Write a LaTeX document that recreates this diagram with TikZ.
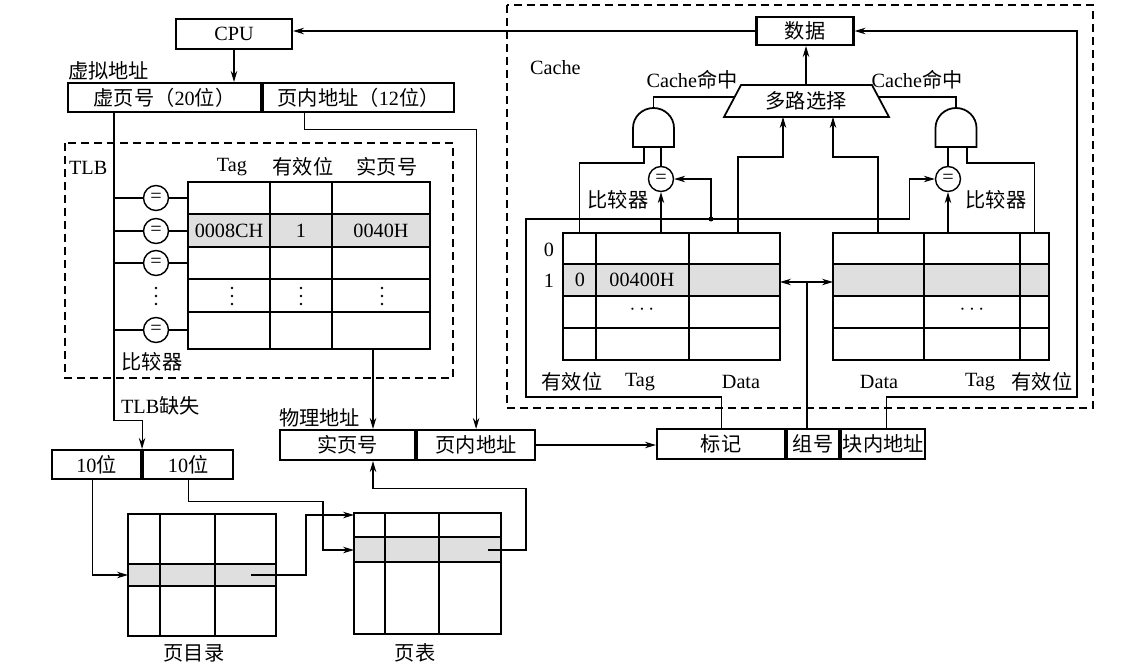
\documentclass[tikz,border=0pt]{standalone}
\usepackage{fontspec}
\setmainfont{Liberation Serif}
\newfontfamily\cjk{Noto Sans CJK SC}
\newcommand{\zh}[1]{{\cjk #1}}
\usepackage{tikz}
\usetikzlibrary{arrows.meta, positioning, calc}

\begin{document}
\begin{tikzpicture}[x=0.2mm, y=-0.2mm,
  font=\fontsize{11.5}{13}\selectfont,
  box/.style={draw, line width=1.2pt, inner sep=0pt, minimum height=6mm},
  cmp/.style={draw, circle, line width=0.8pt, inner sep=0pt, minimum size=5mm},
  lbl/.style={inner sep=1pt},
  wire/.style={line width=0.6pt},
  arr/.style={wire, -{Stealth[length=2.2mm, width=1.3mm]}},
  tabline/.style={line width=1pt},
  dashbox/.style={line width=1.1pt, dash pattern=on 1.6mm off 1mm}]
\useasboundingbox (0,0) rectangle (1146,669);
% CPU and virtual address
\node[box, minimum width=23.2mm] (cpu) at (234,34) {CPU};
\node[lbl, anchor=west] (vlab) at (66,71) {\zh{虚拟地址}};
\node[box, minimum width=38.6mm, minimum height=5.8mm] (vpn) at (164.5,97.5) {\zh{虚页号（}20\zh{位）}};
\node[box, minimum width=38.2mm, minimum height=5.8mm, right=0pt of vpn] (voff) {\zh{页内地址（}12\zh{位）}};
\draw[arr] (cpu.south) -- (cpu.south |- vpn.north);
% TLB
\draw[dashbox] (65,143) rectangle (453,378);
\node[lbl, anchor=west] (tlblab) at (67,168) {TLB};
\node (htag) at (232,167) {Tag};
\node (hval) at (303,167) {\zh{有效位}};
\node (hppn) at (387,167) {\zh{实页号}};
\coordinate (bus) at (114,112);
\coordinate (tlbtl) at (188,182);
\coordinate (tlbppn) at (373,349);
\fill[gray!25] (188,214) rectangle (430,247);
\draw[tabline] (188,182) rectangle (430,349);
\foreach \y in {214,247,279,312} \draw[tabline] (188,\y) -- (430,\y);
\foreach \x in {270,332} \draw[tabline] (\x,182) -- (\x,349);
\node at (229,231) {0008CH};
\node at (301,231) {1};
\node at (381,231) {0040H};
\foreach \x in {156,232,301,382}
  \foreach \d in {-8,0,8} \fill (\x,296+\d) circle (1.4);
\foreach \y/\n in {198/1,231/2,263/3,330/4} {
  \node[cmp] (c\n) at (156,\y) {=};
  \draw[wire] (c\n.west) -- (c\n.west -| bus);
  \draw[wire] (c\n.east) -- (c\n.east -| tlbtl);
}
\node (tlbcmp) at (152,362) {\zh{比较器}};
% TLB miss and page tables
\node[lbl, anchor=west] (misslab) at (119,406) {TLB\zh{缺失}};
\node[box, minimum width=17.8mm, minimum height=5.8mm] (l10) at (96.5,464.5) {10\zh{位}};
\node[box, minimum width=18mm, minimum height=5.8mm, right=0pt of l10] (r10) {10\zh{位}};
\draw[arr] (bus) |- ($(l10.north east)+(0,-28)$) -- (l10.north east);
\coordinate (dirin) at (128,575);
\coordinate (dirout) at (251,575);
\coordinate (ptin1) at (354,515);
\coordinate (ptin2) at (354,550);
\coordinate (ptout) at (488,550);
\fill[gray!25] (128,564) rectangle (276,586);
\draw[tabline] (128,514) rectangle (276,636);
\foreach \y in {564,586} \draw[tabline] (128,\y) -- (276,\y);
\foreach \x in {160,215} \draw[tabline] (\x,514) -- (\x,636);
\fill[gray!25] (354,537) rectangle (501,562);
\draw[tabline] (354,513) rectangle (501,634);
\foreach \y in {537,562} \draw[tabline] (354,\y) -- (501,\y);
\foreach \x in {385,439} \draw[tabline] (\x,513) -- (\x,634);
\node (dirlab) at (194,653) {\zh{页目录}};
\node (ptlab) at (415,653) {\zh{页表}};
\draw[arr] ($(l10.south west)+(42,0)$) |- (dirin);
\draw[arr] (dirout) -- ++(55,0) |- (ptin1);
\draw[arr] (r10.south) -- ++(0,21) -| ($(ptin2)+(-31,0)$) -- (ptin2);
% Physical address
\node[lbl, anchor=west] (plab) at (277,418) {\zh{物理地址}};
\node[box, minimum width=27mm] (ppn) at (347.5,445) {\zh{实页号}};
\node[box, minimum width=23.6mm, right=0pt of ppn] (poff) {\zh{页内地址}};
\draw[arr] (tlbppn) -- (tlbppn |- ppn.north);
\draw[arr] ($(voff.south west)+(42,0)$) -- ++(0,16) -| (poff.north);
\draw[arr] (ptout) -- ++(38,0) |- ($(ppn.south -| tlbppn)+(0,27)$) -- (ppn.south -| tlbppn);
% Cache address
\node[box, minimum width=25.6mm] (tagf) at (721,444) {\zh{标记}};
\node[box, minimum width=10.4mm, right=0pt of tagf] (setf) {\zh{组号}};
\node[box, minimum width=16.8mm, right=0pt of setf] (blkf) {\zh{块内地址}};
\draw[arr] (poff.east) -- (poff.east -| tagf.west);
% Cache
\draw[dashbox] (507,5) rectangle (1093,408);
\node[lbl, anchor=west] (clab) at (528,68) {Cache};
\node[box, minimum width=19.4mm, minimum height=5.6mm] (data) at (805,31) {\zh{数据}};
\draw[arr] (data.west) -- (data.west -| cpu.east);
\draw[line width=1pt] (741,85) -- (872,85) -- (889,117) -- (724,117) -- cycle;
\node (mux) at (806,101) {\zh{多路选择}};
\draw[arr] ($(mux)+(0,-16)$) -- (mux |- data.south);
% AND gates
\coordinate (land) at (653.5,108);
\coordinate (rand) at (956,108);
\draw[line width=1pt] (633,147) -- (633,128) arc[start angle=180, end angle=360, x radius=20.5, y radius=20] -- (674,147) -- cycle;
\draw[line width=1pt] (935.5,147) -- (935.5,128) arc[start angle=180, end angle=360, x radius=20.5, y radius=20] -- (976.5,147) -- cycle;
\node (lhit) at (692,80) {Cache\zh{命中}};
\node (rhit) at (917,80) {Cache\zh{命中}};
\draw[wire] (land) |- ($(mux)+(-71,-4)$);
\draw[wire] ($(mux)+(72,-4)$) -| (rand);
% comparators
\node[cmp] (lcmp) at (661,179) {=};
\node[cmp] (rcmp) at (948,179) {=};
\node (lcmplab) at (618,200) {\zh{比较器}};
\node (rcmplab) at (996,200) {\zh{比较器}};
\draw[wire] (lcmp.north) -- ++(0,-20);
\draw[wire] (rcmp.north) -- ++(0,-20);
% cache tables
\coordinate (lval) at (579.5,233);
\coordinate (ltag) at (661,233);
\coordinate (ldat) at (738,233);
\coordinate (rdat) at (878,233);
\coordinate (rtag) at (948,233);
\coordinate (rval) at (1034.5,233);
\foreach \a/\b/\c/\d in {563/596/689/780, 833/924/1020/1049} {
  \fill[gray!25] (\a,264) rectangle (\d,296);
  \draw[tabline] (\a,233) rectangle (\d,360);
  \foreach \y in {264,296,328} \draw[tabline] (\a,\y) -- (\d,\y);
  \foreach \x in {\b,\c} \draw[tabline] (\x,233) -- (\x,360);
}
\node at (549,250) {0};
\node at (549,281) {1};
\node at (580,280) {0};
\node at (642,280) {00400H};
\node at (642,310) {$\cdots$};
\node at (972,310) {$\cdots$};
\node at (572,382) {\zh{有效位}};
\node at (640,382) {Tag};
\node at (741,382) {Data};
\node at (879,382) {Data};
\node at (980,382) {Tag};
\node at (1042,382) {\zh{有效位}};
\draw[wire] ($(land)+(-9.5,39)$) -- ++(0,16) -| (lval);
\draw[wire] ($(rand)+(11,39)$) -- ++(0,16) -| (rval);
\draw[arr] (ltag) -- (lcmp.south);
\draw[arr] (rtag) -- (rcmp.south);
\draw[arr] (ldat) |- ($(mux)+(-23,56)$) -- ($(mux)+(-23,16)$);
\draw[arr] (rdat) |- ($(mux)+(27,56)$) -- ($(mux)+(27,16)$);
% tag bus
\coordinate (cbus) at (526,219);
\coordinate (dot) at (711,219);
\draw[arr] ($(tagf.north west)+(66,0)$) |- ($(cbus)+(0,178)$) -- (cbus) -| ($(rcmp.west)+(-25,0)$) -- (rcmp.west);
\fill (dot) circle (2.5);
\draw[arr] (dot) |- (lcmp.east);
% set and offset
\coordinate (dbl) at (807,282);
\draw[wire] (setf.north -| dbl) -- (dbl);
\draw[wire, {Stealth[length=2.2mm, width=1.3mm]}-{Stealth[length=2.2mm, width=1.3mm]}] (780,282) -- (833,282);
\coordinate (rbus) at (1077,397);
\draw[arr] ($(blkf.north west)+(46,0)$) |- (rbus) |- (data.east);
\end{tikzpicture}
\end{document}
